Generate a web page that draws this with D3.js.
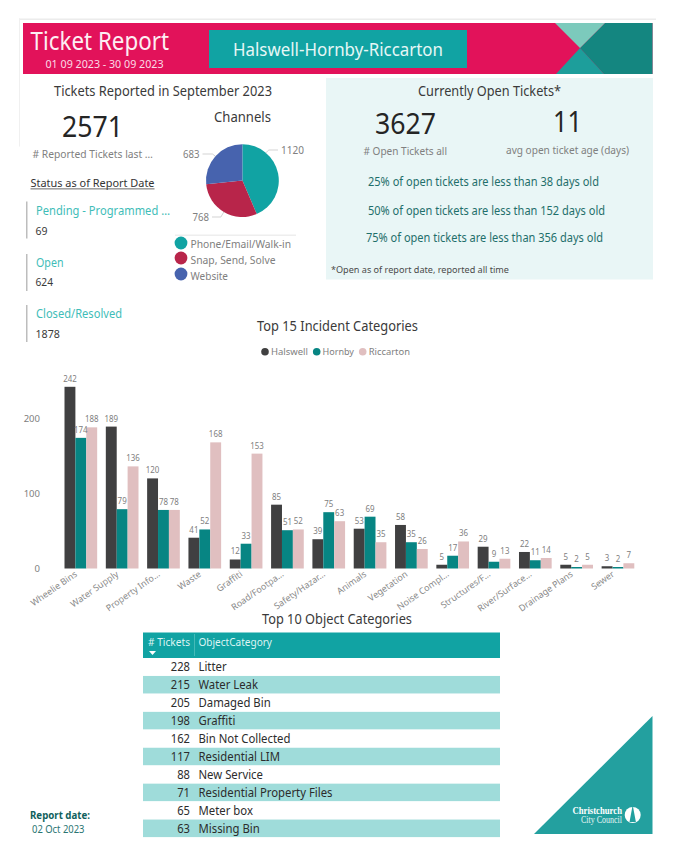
<!DOCTYPE html>
<html><head><meta charset="utf-8">
<script src="https://cdn.jsdelivr.net/npm/d3@7/dist/d3.min.js"></script>
<style>html,body{margin:0;padding:0;background:#fff}svg{display:block}text{font-family:"Noto Sans",Lato,sans-serif}</style>
</head><body><div id="chart"></div>
<script>
const categories=["Wheelie Bins","Water Supply","Property Info…","Waste","Graffiti","Road/Footpa…","Safety/Hazar…","Animals","Vegetation","Noise Compl…","Structures/F…","River/Surface…","Drainage Plans","Sewer"];
const seriesNames=["Halswell","Hornby","Riccarton"];
const halswell=[242,189,120,41,12,85,39,53,58,5,29,22,5,3];
const hornby=[174,79,78,52,33,51,75,69,35,17,9,11,2,2];
const riccarton=[188,136,78,168,153,52,63,35,26,36,13,14,5,7];
const yTicks=[0,100,200];
const channelNames=["Phone/Email/Walk-in","Snap, Send, Solve","Website"];
const channelValues=[1120,768,683];
const objectCounts=[228,215,205,198,162,117,88,71,65,63];
const objectNames=["Litter","Water Leak","Damaged Bin","Graffiti","Bin Not Collected","Residential LIM","New Service","Residential Property Files","Meter box","Missing Bin"];

const TEAL="#11a3a3",DARK="#404041",GREEN="#078583",ROSE="#e0bfc0";
const svg=d3.select("#chart").append("svg").attr("width",675).attr("height",862);
function T(x0,x1,y,s,size,fill,extra){
  const e=svg.append("text").attr("x",x0).attr("y",y).attr("font-size",size).attr("fill",fill)
    .attr("textLength",x1-x0).attr("lengthAdjust","spacingAndGlyphs").text(s);
  if(extra)extra(e);return e;
}
const squeeze=(sel,k)=>sel.attr("textLength",function(){return this.getComputedTextLength()*k}).attr("lengthAdjust","spacingAndGlyphs");
const poly=(pts,fill)=>svg.append("polygon").attr("points",pts.map(p=>p.join(",")).join(" ")).attr("fill",fill);
const rect=(x,y,w,h,fill)=>svg.append("rect").attr("x",x).attr("y",y).attr("width",w).attr("height",h).attr("fill",fill);

// frame + header
rect(19,18.5,637,1.5,"#ececec");rect(19,18.5,1,128,"#f0f0f0");
rect(23,23,629.5,51,"#e2125a");
poly([[605,23],[652.5,23],[652.5,74],[604,74],[580,48]],"#148680");
poly([[555,23],[605,23],[580,48]],"#7ccabc");
poly([[556,74],[604,74],[580,48]],"#1d9e9b");
rect(209,30,258,38,TEAL);
T(30.5,169,50,"Ticket Report",25,"#fdeef3");
T(45.5,163.5,68,"01 09 2023 - 30 09 2023",11.5,"#fbdbe6");
T(233,443,56,"Halswell-Hornby-Riccarton",18,"#e6f7f6");

// left block
T(54,272,96,"Tickets Reported in September 2023",15,"#3a3a3a");
T(62,123,137,"2571",28.5,"#252525");
T(32.5,153,158,"# Reported Tickets last …",10.5,"#808080");
T(30.5,154.5,187,"Status as of Report Date",11.5,"#333");
rect(30.5,188.5,124,.8,"#444");
const kpi=[["Pending - Programmed …","69",36,170,201.5,215,235,47.5],["Open","624",36,63.5,254,267,286,53],["Closed/Resolved","1878",36,122,305,318,338,60]];
kpi.forEach(k=>{rect(26,k[4],1.5,37,"#bdbdbd");T(k[2],k[3],k[5],k[0],12,"#3fbdb8");T(35.5,k[7],k[6],k[1],11.5,"#3a3a3a");});

// pie
T(214,271,122,"Channels",14,"#3a3a3a");
const pieColor=d3.scaleOrdinal().domain(channelNames).range([TEAL,"#b8254a","#4763ae"]);
const pieG=svg.append("g").attr("transform","translate(242.4,180.6)");
const arcs=d3.pie().sort(null)(channelValues);
const R=36.4,arc=d3.arc().innerRadius(0).outerRadius(R);
pieG.selectAll("path").data(arcs).join("path").attr("d",arc).attr("fill",(d,i)=>pieColor(channelNames[i]));
const leaderAngle=[0.7,null,null];
const labelSpec=[[281,304,154,1],[192.5,209,221,-1],[183,199.5,158,-1]];
arcs.forEach((d,i)=>{
  const a=leaderAngle[i]===null?(d.startAngle+d.endAngle)/2:leaderAngle[i];
  const px=Math.sin(a)*R,py=-Math.cos(a)*R;
  const ly=labelSpec[i][2]-4-180.6, lx=(labelSpec[i][3]>0?labelSpec[i][0]-3:labelSpec[i][1]+3)-242.4;
  pieG.append("polyline").attr("points",`${px},${py} ${px+labelSpec[i][3]*3},${ly} ${lx},${ly}`).attr("fill","none").attr("stroke","#c8c8c8").attr("stroke-width",.8);
  T(labelSpec[i][0],labelSpec[i][1],labelSpec[i][2],d3.format("d")(channelValues[i]),10.5,"#808080");
});
rect(175,234.5,121,1.5,"#eeeeee");
const legY=d3.scalePoint().domain(channelNames).range([243,275]);
const legEnd=[291,275.5,228];
channelNames.forEach((n,i)=>{
  svg.append("circle").attr("cx",181).attr("cy",legY(n)-(i?1:0)).attr("r",6.4).attr("fill",pieColor(n));
  T(190.5,legEnd[i],legY(n)+4.5,n,10.5,"#808080");
});

// right panel
rect(326,78,327,201.5,"#e9f6f6");
T(418,561,96,"Currently Open Tickets*",14.5,"#3a3a3a");
T(375,436,134,"3627",28.5,"#252525");
T(553,582,132,"11",28.5,"#252525");
T(363.5,447,155,"# Open Tickets all",10.5,"#808080");
T(506,629,154,"avg open ticket age (days)",10.5,"#808080");
T(368,599,186,"25% of open tickets are less than 38 days old",12,"#1f6f6b");
T(368,605,214.5,"50% of open tickets are less than 152 days old",12,"#1f6f6b");
T(366,603,242,"75% of open tickets are less than 356 days old",12,"#1f6f6b");
T(331,509,273,"*Open as of report date, reported all time",9.5,"#4a4a4a");

// bar chart
T(257,418,331,"Top 15 Incident Categories",14.5,"#3a3a3a");
const barColor=d3.scaleOrdinal().domain(seriesNames).range([DARK,GREEN,ROSE]);
[[265,271,308],[316.7,322.5,354],[362.7,368.7,410]].forEach((l,i)=>{
  svg.append("circle").attr("cx",l[0]).attr("cy",351.7).attr("r",3.8).attr("fill",barColor(seriesNames[i]));
  T(l[1],l[2],355,seriesNames[i],9.5,"#808080");
});
const x=d3.scaleBand().domain(categories).range([64.5,634.3]).paddingInner(.209).paddingOuter(0);
const x1=d3.scaleBand().domain(seriesNames).range([0,x.bandwidth()]);
const y=d3.scaleLinear().domain([0,242]).range([568.5,386.8]);
const yAxis=d3.axisLeft(y).tickValues(yTicks).tickSize(0).tickPadding(0);
svg.append("g").attr("transform","translate(40,0)").call(yAxis)
  .call(g=>g.select(".domain").remove())
  .call(g=>g.selectAll("text").attr("fill","#808080").attr("font-size",9.5).attr("font-family",'"Noto Sans"'));
const rows=categories.map((c,i)=>({c,vals:[halswell[i],hornby[i],riccarton[i]]}));
const grp=svg.append("g").selectAll("g").data(rows).join("g").attr("transform",d=>`translate(${x(d.c)},0)`);
grp.selectAll("rect").data(d=>d.vals.map((v,j)=>({v,s:seriesNames[j]}))).join("rect")
  .attr("x",d=>x1(d.s)).attr("width",x1.bandwidth()).attr("y",d=>y(d.v)).attr("height",d=>y(0)-y(d.v)).attr("fill",d=>barColor(d.s));
grp.selectAll("text").data(d=>d.vals.map((v,j)=>({v,s:seriesNames[j]}))).join("text")
  .attr("x",d=>x1(d.s)+x1.bandwidth()/2).attr("y",d=>y(d.v)-5).attr("text-anchor","middle").attr("font-size",9).attr("fill","#808080").text(d=>d.v)
  .call(squeeze,.88);
svg.append("g").selectAll("text").data(categories).join("text")
  .attr("transform",d=>`translate(${x(d)+x.bandwidth()/2-3},575.5) rotate(-35)`)
  .attr("text-anchor","end").attr("font-size",9).attr("fill","#8a8a8a").text(d=>d);

// table
T(262,412,624,"Top 10 Object Categories",14.5,"#3a3a3a");
rect(143,632.5,357,25.5,TEAL);rect(194,634,.7,22,"#5cc4c2");
T(148,190,646,"# Tickets",11.5,"#dff5f4");
T(198.5,272,646,"ObjectCategory",11.5,"#dff5f4");
poly([[149,651],[156,651],[152.5,655]],"#fff");
const ry=d3.scaleBand().domain(objectNames).range([658,837.5]);
const tr=svg.append("g").selectAll("g").data(objectNames).join("g").attr("transform",d=>`translate(143,${ry(d)})`);
tr.append("rect").attr("width",357).attr("height",ry.bandwidth()-.4).attr("fill",(d,i)=>i%2?"#9fdcda":"#fff");
tr.append("text").attr("x",47).attr("y",13).attr("text-anchor","end").attr("font-size",12).attr("fill","#2c2c2c").text((d,i)=>objectCounts[i]).call(squeeze,.93);
tr.append("text").attr("x",55.5).attr("y",13).attr("font-size",12.2).attr("fill","#2c2c2c").text(d=>d).call(squeeze,.93);

// footer
T(30,90,819,"Report date:",10,"#0f5f5c",e=>e.attr("font-weight",700));
T(32,84.5,833,"02 Oct 2023",10,"#2a7572");
poly([[534,834],[652.5,716],[652.5,834]],"#23a09f");
T(572.5,622,814,"Christchurch",9.5,"#fff",e=>e.style("font-family",'"Liberation Serif"').attr("font-weight",700));
T(581,622,823,"City Council",9.5,"#e6f5f5",e=>e.style("font-family",'"Liberation Serif"'));
svg.append("circle").attr("cx",632.7).attr("cy",815).attr("r",8).attr("fill","#fff");
poly([[632.7,805],[629.5,822],[635.9,822]],"#23a09f");
</script></body></html>
